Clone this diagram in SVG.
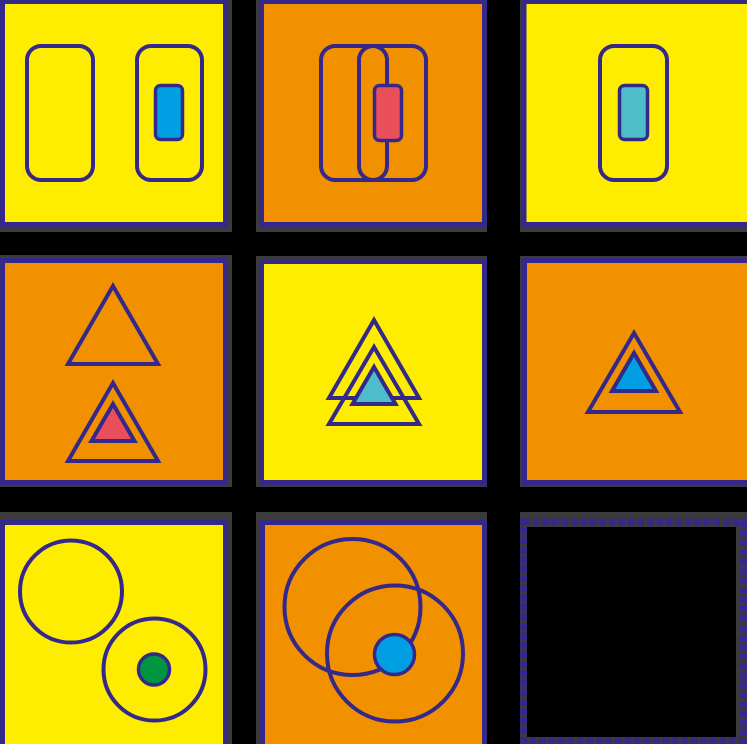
<svg xmlns="http://www.w3.org/2000/svg" width="747" height="744" viewBox="0 0 747 744">
<style>
.sh{fill:#3b3b3b}
.y{fill:#FFED00;stroke:#34288A;stroke-width:5}
.o{fill:#F29100;stroke:#34288A;stroke-width:5}
.ln{fill:none;stroke:#34288A;stroke-width:4}
.sm{stroke:#34288A;stroke-width:3.5}
.tri{stroke:#34288A;stroke-width:4;stroke-linejoin:miter}
.nf{fill:none}
.red{fill:#E94E5B}
.blue{fill:#009FE3}
.teal{fill:#4DBDCA}
.green{fill:#009640}
</style>
<rect width="747" height="744" fill="#000"/>
<g id="cell1">
<rect class="sh" x="0" y="0" width="232" height="232"/>
<rect class="y" x="2.5" y="1.5" width="223" height="223"/>
<rect class="ln" x="27" y="46" width="66" height="134" rx="14"/>
<rect class="ln" x="137" y="46" width="65" height="134" rx="14"/>
<rect class="sm blue" x="155.5" y="85.5" width="27" height="54" rx="5"/>
</g>
<g id="cell2">
<rect class="sh" x="256" y="0" width="231" height="232"/>
<rect class="o" x="261.5" y="1.5" width="223" height="223"/>
<rect class="ln" x="321" y="46" width="105" height="134" rx="14"/>
<rect class="ln" x="359" y="46" width="28" height="134" rx="14"/>
<rect class="sm red" x="374.5" y="85.5" width="27" height="55" rx="5"/>
</g>
<g id="cell3">
<rect class="sh" x="520" y="0" width="227" height="232"/>
<rect class="y" x="524" y="1.5" width="226" height="223"/>
<rect class="ln" x="600" y="46" width="67" height="134" rx="14"/>
<rect class="sm teal" x="619.5" y="85.5" width="28" height="54" rx="5"/>
</g>
<g id="cell4">
<rect class="sh" x="0" y="255" width="232" height="232"/>
<rect class="o" x="2.5" y="260.5" width="223" height="222"/>
<polygon class="tri nf" points="113,286 68,364 158,364"/>
<polygon class="tri nf" points="113,383 68,461 158,461"/>
<polygon class="tri red" points="113,404 91.5,441 134.5,441"/>
</g>
<g id="cell5">
<rect class="sh" x="256" y="256" width="231" height="231"/>
<rect class="y" x="261.5" y="261.5" width="223" height="221"/>
<polygon class="tri nf" points="374,320 329,398 419,398"/>
<polygon class="tri nf" points="374,347 329,424 419,424"/>
<polygon class="tri teal" points="374,367 352.5,404 395.5,404"/>
</g>
<g id="cell6">
<rect class="sh" x="520" y="256" width="227" height="231"/>
<rect class="o" x="524.5" y="260.5" width="226" height="222"/>
<polygon class="tri nf" points="634,333 588,412 680,412"/>
<polygon class="tri blue" points="634,353 612,391 656,391"/>
</g>
<g id="cell7">
<rect class="sh" x="0" y="512" width="232" height="232"/>
<rect class="y" x="2.5" y="522.5" width="223" height="224"/>
<circle class="ln" cx="71" cy="591.5" r="51"/>
<circle class="ln" cx="154.5" cy="669.5" r="51"/>
<circle class="sm green" cx="154" cy="669.5" r="15.5"/>
</g>
<g id="cell8">
<rect class="sh" x="256" y="512" width="231" height="232"/>
<rect class="o" x="262.5" y="522.5" width="222" height="224"/>
<circle class="ln" cx="352.5" cy="607" r="68"/>
<circle class="ln" cx="395" cy="653.5" r="68"/>
<circle class="sm blue" cx="394.5" cy="654.5" r="20"/>
</g>
<g id="cell9">
<rect class="sh" x="520" y="512" width="227" height="232"/>
<rect x="527" y="527" width="209" height="210" fill="#000"/>
<rect x="523.5" y="522" width="220" height="218.5" fill="none" stroke="#34288A" stroke-width="7" stroke-dasharray="6.5 3"/>
</g>
</svg>
